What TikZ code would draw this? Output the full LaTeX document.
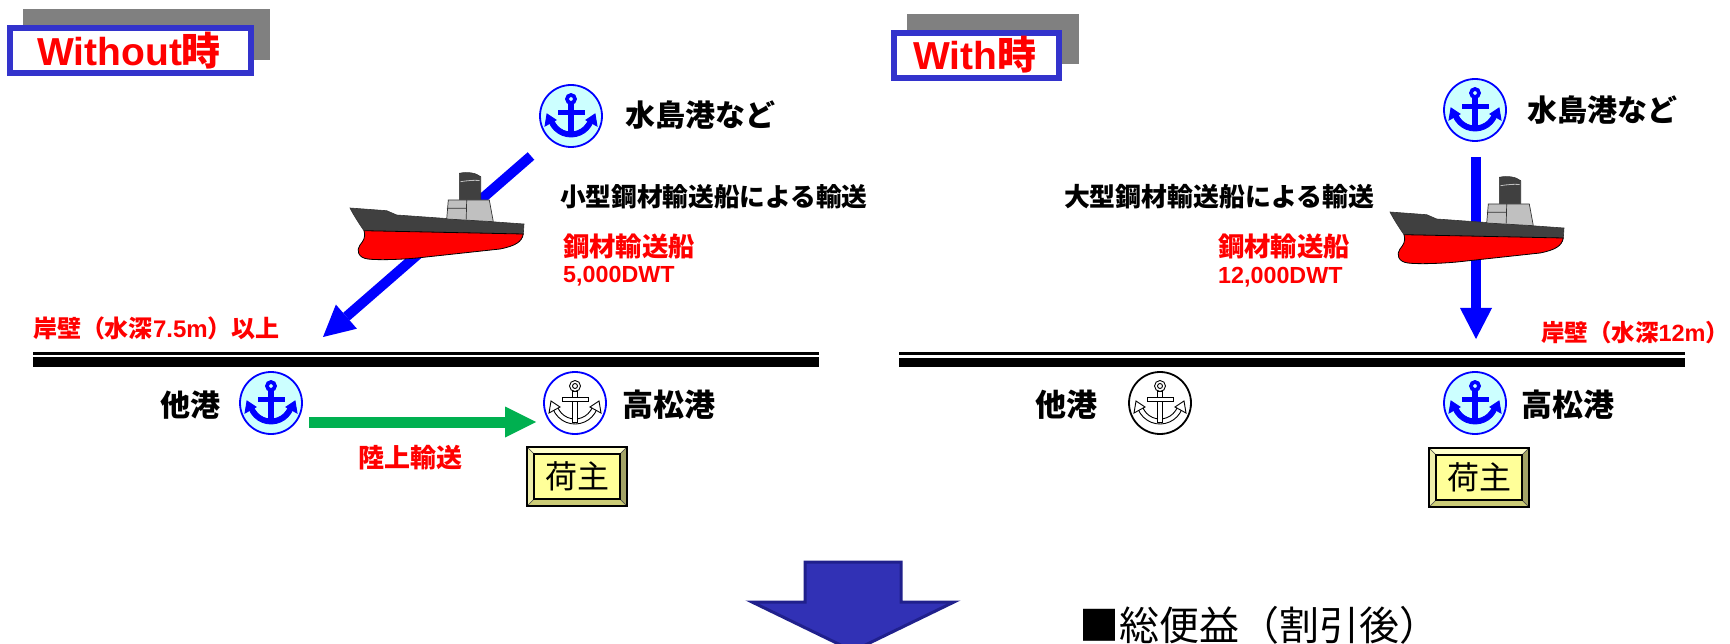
\documentclass[tikz,border=0pt]{standalone}
\usepackage{fontspec}
\usetikzlibrary{arrows.meta}
\newfontfamily\jpf{Noto Sans CJK JP}
\newfontfamily\lsf{Liberation Sans}
\newcommand\fsz[1]{\fontsize{#1}{#1}\selectfont}

\definecolor{jblue}{HTML}{0000FF}
\definecolor{jcyan}{HTML}{CCFFFF}
\definecolor{jred}{HTML}{FF0000}
\definecolor{jgreen}{HTML}{00B050}
\definecolor{framebl}{HTML}{3333CC}
\definecolor{shadowgr}{HTML}{808080}
\definecolor{hulldark}{HTML}{404040}
\definecolor{bridgegr}{HTML}{C0C0C0}
\definecolor{bigfill}{HTML}{3131B5}
\definecolor{bigedge}{HTML}{20208C}
\definecolor{boxin}{HTML}{FFFF99}
\definecolor{bevtop}{HTML}{FFFFCC}
\definecolor{bevleft}{HTML}{EEEEAA}
\definecolor{bevbot}{HTML}{CCCC77}
\definecolor{bevright}{HTML}{A3A366}

\tikzset{
  lbl/.style={inner sep=0pt, outer sep=0pt, anchor=west, font=\jpf\bfseries},
  redlbl/.style={lbl, text=jred},
  port/.style={circle, minimum size=62pt, inner sep=0pt, line width=1.8pt},
  portblue/.style={port, draw=jblue, fill=jcyan},
  portwhite/.style={port, fill=white},
  titlebox/.style={rectangle, draw=framebl, fill=white, line width=6pt, inner sep=0pt},
  shipper/.style={rectangle, draw=black, fill=boxin, line width=1.2pt, inner sep=0pt,
    minimum width=86pt, minimum height=45pt, font=\jpf\fsz{32}},
  searoute/.style={draw=jblue, line width=10pt, -{Triangle[length=31pt,width=32pt,line width=0pt]}},
  landroute/.style={draw=jgreen, line width=11pt, -{Triangle[length=31pt,width=31pt,line width=0pt]}},
  pics/anchorsym/.style 2 args={code={
    % crown arc with its two flukes, then shank, stock and ring
    \path[fill=#1, draw=#2, line width=0.9pt]
      (22.03,5.86) arc[start angle=21, end angle=159, radius=23.6]
      -- (-17.36,4.07) arc[start angle=159, end angle=21, radius=18.6] -- cycle;
    \path[fill=#1, draw=#2, line width=0.9pt] (-24,-2) -- (-26,10) -- (-15,4) -- cycle;
    \path[fill=#1, draw=#2, line width=0.9pt] (24,-2) -- (26,10) -- (15,4) -- cycle;
    \path[fill=#1, draw=#2, line width=0.9pt] (-2.6,-12) rectangle (2.6,19);
    \path[fill=#1, draw=#2, line width=0.9pt] (-13,-6) rectangle (13,-1.2);
    \path[fill=#1, draw=#2, line width=0.9pt, even odd rule] (0,-17) circle (5.5) (0,-17) circle (2.5);
  }},
  pics/ship/.style={code={
    % dark deck and bow
    \path[fill=hulldark, draw=black!80, line width=0.6pt]
      (0,0) -- (36.7,2.7) -- (46.7,7) -- (174,16) -- (173.3,26) -- (14,22.7)
      .. controls (8,14) and (3,6) .. (0,0) -- cycle;
    % red hull below the waterline
    \path[fill=jred, draw=black, line width=0.8pt]
      (14,22.7) -- (173.3,26) .. controls (172,34) and (165,38) .. (150,41)
      -- (67,50) .. controls (45,52) and (25,52) .. (18,51)
      .. controls (8,50) and (6,42) .. (10,37)
      .. controls (13,33) and (16,30) .. (14,22.7) -- cycle;
    % funnel
    \path[fill=hulldark, draw=black!80, line width=0.6pt]
      (109.3,-7) -- (109.3,-34.7) .. controls (118,-36.5) and (126,-35) .. (130.7,-31.3)
      -- (130.7,-7) -- cycle;
    \draw[bridgegr, line width=0.8pt] (110.5,-26.3) .. controls (118,-27.5) and (124,-28) .. (129.5,-27.5);
    % bridge block
    \path[fill=bridgegr, draw=black!80, line width=0.7pt]
      (98.3,-8) -- (139.3,-8) -- (143.3,13.7) -- (96.7,11) -- cycle;
    \draw[black!80, line width=0.7pt] (96.9,0.3) -- (116.7,0.3) (116.7,-8) -- (116.2,11.5);
  }}
}

\newcommand\shipperbox[3]{%
  \begin{scope}[shift={(#2,#3)}]
    \path[fill=bevtop, draw=black!70, line width=0.4pt] (-50,-29.5) -- (50,-29.5) -- (43,-22.5) -- (-43,-22.5) -- cycle;
    \path[fill=bevbot, draw=black!70, line width=0.4pt] (-50,29.5) -- (50,29.5) -- (43,22.5) -- (-43,22.5) -- cycle;
    \path[fill=bevleft, draw=black!70, line width=0.4pt] (-50,-29.5) -- (-43,-22.5) -- (-43,22.5) -- (-50,29.5) -- cycle;
    \path[fill=bevright, draw=black!70, line width=0.4pt] (50,-29.5) -- (43,-22.5) -- (43,22.5) -- (50,29.5) -- cycle;
    \draw[black, line width=1.2pt] (-50,-29.5) rectangle (50,29.5);
  \end{scope}
  \node[shipper] (#1) at (#2,#3) {荷主};%
}

\begin{document}
\begin{tikzpicture}[x=1pt, y=-1pt]
\useasboundingbox (0,0) rectangle (1730,644);

% ---------------- case without the project ----------------
\fill[shadowgr] (23.3,9.3) rectangle (270,60.5);
\node[titlebox, minimum width=240.7pt, minimum height=45pt] (woTitle) at (130.65,50.5) {};
\node[inner sep=0pt, anchor=base west, text=jred] (woText) at (37,66)
  {\fsz{39}\lsf\bfseries Without\jpf 時};

% quay wall
\draw[line width=3pt] (33,353.5) -- (819,353.5);
\draw[line width=10pt] (33,362) -- (819,362);

% ports
\node[portblue] (mzL) at (571,116) {};
\pic at (mzL.center) {anchorsym={jblue}{jblue}};
\node[lbl, font=\jpf\bfseries\fsz{30}] (mzLt) at (625,115) {水島港など};

\node[portblue] (otL) at (271,403) {};
\pic at (otL.center) {anchorsym={jblue}{jblue}};
\node[lbl, font=\jpf\bfseries\fsz{30}] (otLt) at (160,405) {他港};

\node[portblue, fill=white] (tkL) at (575,403) {};
\pic at (tkL.center) {anchorsym={white}{black}};
\node[lbl, font=\jpf\bfseries\fsz{31}] (tkLt) at (622,405) {高松港};

% sea route (small carrier)
\coordinate (seaLa) at (531,156);
\coordinate (seaLb) at (323,337);
\draw[searoute] (seaLa) -- (seaLb);
\pic at (350,208) {ship};

\node[lbl, font=\jpf\bfseries\fsz{25.7}] (routeL) at (560,197) {小型鋼材輸送船による輸送};
\node[redlbl, font=\jpf\bfseries\fsz{26.4}] (vesL) at (563,247) {鋼材輸送船};
\node[inner sep=0pt, anchor=base west, text=jred, font=\lsf\bfseries\fsz{23.3}] (dwtL) at (563,283) {5,000DWT};
\node[redlbl, font=\jpf\bfseries\fsz{24}] (quayL) at (33,328) {岸壁（水深{\lsf 7.5m}）以上};

% land route
\coordinate (landa) at (309,422);
\coordinate (landb) at (536,422);
\draw[landroute] (landa) -- (landb);
\node[redlbl, font=\jpf\bfseries\fsz{26}] (landt) at (358,458) {陸上輸送};

\shipperbox{shipL}{577}{476.5}

% ---------------- case with the project ----------------
\fill[shadowgr] (906.7,14) rectangle (1079,64.3);
\node[titlebox, minimum width=165.3pt, minimum height=45pt] (wTitle) at (976.35,55.5) {};
\node[inner sep=0pt, anchor=base west, text=jred] (wText) at (913,70)
  {\fsz{39}\lsf\bfseries With\jpf 時};

\draw[line width=3pt] (899,353.5) -- (1685,353.5);
\draw[line width=9pt] (899,362.5) -- (1685,362.5);

\node[portblue] (mzR) at (1475,110) {};
\pic at (mzR.center) {anchorsym={jblue}{jblue}};
\node[lbl, font=\jpf\bfseries\fsz{30}] (mzRt) at (1527,110) {水島港など};

\node[portwhite, draw=black] (otR) at (1160,403) {};
\pic at (otR.center) {anchorsym={white}{black}};
\node[lbl, font=\jpf\bfseries\fsz{31}] (otRt) at (1035,405) {他港};

\node[portblue] (tkR) at (1475,403) {};
\pic at (tkR.center) {anchorsym={jblue}{jblue}};
\node[lbl, font=\jpf\bfseries\fsz{31}] (tkRt) at (1521,405) {高松港};

% sea route (large carrier)
\coordinate (seaRa) at (1476,157);
\coordinate (seaRb) at (1476,339);
\draw[searoute] (seaRa) -- (seaRb);
\pic at (1390,212) {ship};

\node[lbl, font=\jpf\bfseries\fsz{25.9}] (routeR) at (1064,197) {大型鋼材輸送船による輸送};
\node[redlbl, font=\jpf\bfseries\fsz{26.4}] (vesR) at (1218,247) {鋼材輸送船};
\node[inner sep=0pt, anchor=base west, text=jred, font=\lsf\bfseries\fsz{23.3}] (dwtR) at (1218,284) {12,000DWT};
\node[redlbl, font=\jpf\bfseries\fsz{23.5}] (quayR) at (1541,333) {岸壁（水深{\lsf 12m}）\kern-0.6em};

\shipperbox{shipR}{1479}{477.5}

% ---------------- result ----------------
\path[fill=bigfill, draw=bigedge, line width=3pt, line join=miter]
  (805,562) -- (901,562) -- (901,602) -- (954,602) -- (853,651) -- (752,602) -- (805,602) -- cycle;
\node[inner sep=0pt, anchor=west, font=\jpf\fsz{40}] (benefit) at (1079,625) {■総便益（割引後）\kern-0.6em};

\end{tikzpicture}
\end{document}
